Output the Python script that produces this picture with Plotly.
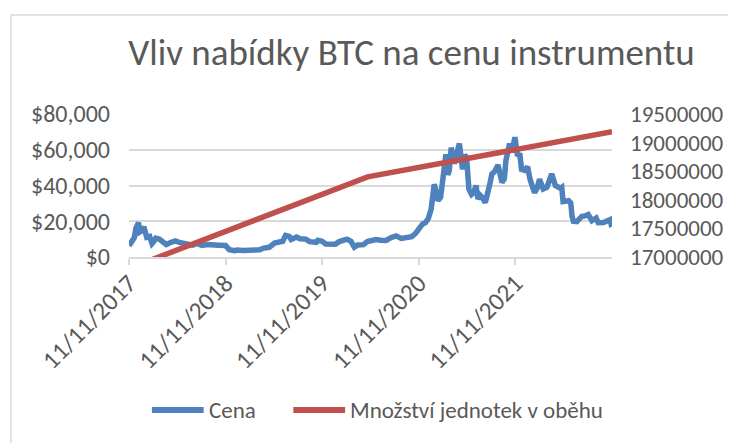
import plotly.graph_objects as go

# ---- data ----
price_dates = [
    "2017-11-11","2017-11-18","2017-11-25","2017-12-01","2017-12-07","2017-12-12","2017-12-17","2017-12-22","2017-12-29",
    "2018-01-06","2018-01-12","2018-01-17","2018-01-28","2018-02-06","2018-02-12","2018-02-20","2018-03-05","2018-03-18",
    "2018-04-01","2018-04-15","2018-05-05","2018-05-20","2018-06-05","2018-06-29","2018-07-10","2018-07-25","2018-08-14",
    "2018-09-05","2018-09-20","2018-10-15","2018-11-11","2018-11-20","2018-11-25","2018-12-15","2018-12-25",
    "2019-01-15","2019-02-08","2019-02-25","2019-03-20","2019-04-05","2019-04-25","2019-05-15","2019-05-30","2019-06-15",
    "2019-06-26","2019-07-10","2019-07-17","2019-08-06","2019-08-20","2019-09-10","2019-09-25","2019-10-20","2019-10-26",
    "2019-11-11","2019-11-25","2019-12-17","2019-12-31","2020-01-15","2020-02-13","2020-02-28","2020-03-12","2020-03-25",
    "2020-04-15","2020-04-30","2020-05-15","2020-06-01","2020-06-20","2020-07-10","2020-07-28","2020-08-17","2020-09-05",
    "2020-09-25","2020-10-15","2020-10-30","2020-11-11","2020-11-25","2020-12-05","2020-12-16","2020-12-27","2021-01-03",
    "2021-01-08","2021-01-15","2021-01-22","2021-02-01","2021-02-08","2021-02-14","2021-02-21","2021-02-28","2021-03-06",
    "2021-03-13","2021-03-25","2021-04-05","2021-04-13","2021-04-20","2021-04-25","2021-05-03","2021-05-10","2021-05-19",
    "2021-05-29","2021-06-06","2021-06-15","2021-06-22","2021-07-01","2021-07-08","2021-07-20","2021-08-05","2021-08-14",
    "2021-08-25","2021-09-06","2021-09-21","2021-09-30","2021-10-06","2021-10-20","2021-10-28","2021-11-09","2021-11-18",
    "2021-11-28","2021-12-04","2021-12-15","2021-12-27","2022-01-05","2022-01-22","2022-02-01","2022-02-10","2022-02-24",
    "2022-03-10","2022-03-28","2022-04-11","2022-04-30","2022-05-05","2022-05-10","2022-05-31","2022-06-08","2022-06-13",
    "2022-06-18","2022-07-01","2022-07-20","2022-08-01","2022-08-13","2022-08-27","2022-09-12","2022-09-20","2022-10-10",
    "2022-10-29","2022-11-05","2022-11-09","2022-11-11",
]
price_values = [
    6300, 7800, 8200, 10800, 16000, 17200, 19200, 14000, 14600,
    17000, 13500, 11000, 11500, 7500, 8500, 10500, 10000, 8200,
    7000, 8000, 9000, 8200, 7500, 6300, 6600, 7600, 6500,
    7000, 6600, 6600, 6400, 4800, 4100, 3500, 3900,
    3700, 3600, 3800, 4000, 5000, 5400, 7800, 8400, 8800,
    12000, 11500, 9800, 11200, 10200, 10000, 8600, 8200, 9300,
    8800, 7300, 6900, 7200, 8600, 10000, 8800, 5500, 6700,
    6900, 8600, 9300, 9800, 9400, 9300, 10800, 11800, 10400,
    10700, 11400, 13300, 15700, 18500, 19200, 21300, 26500, 33000,
    40700, 37000, 31500, 33500, 46000, 48700, 57500, 46000, 48500,
    61200, 52300, 58700, 63500, 55000, 49000, 57000, 56000, 38000,
    35000, 36000, 40000, 32500, 34500, 33500, 30500, 40000, 46500,
    48000, 51500, 41700, 43800, 54000, 63500, 58500, 67000, 57500,
    57000, 49000, 48500, 50500, 43500, 36000, 38500, 43500, 38000,
    39000, 46500, 40000, 38500, 39000, 31000, 31500, 30200, 22800,
    20000, 19800, 22800, 23000, 23800, 20300, 21800, 19200, 19300,
    20500, 21000, 17500, 17000,
]

supply_dates = ["2017-11-11", "2020-05-01", "2022-11-11"]
supply_values = [16800000, 18400000, 19190000]

year_ticks = ["2017-11-11", "2018-11-11", "2019-11-11", "2020-11-11", "2021-11-11"]
year_labels = ["11/11/2017", "11/11/2018", "11/11/2019", "11/11/2020", "11/11/2021"]

left_ticks = [0, 20000, 40000, 60000, 80000]
right_ticks = [17000000, 17500000, 18000000, 18500000, 19000000, 19500000]

title_text = "Vliv nabídky BTC na cenu instrumentu"
series_names = ["Cena", "Množství jednotek v oběhu"]

BLUE = "#4F81BD"
RED = "#C0504D"
TXT = "#595959"
GRID = "#D9D9D9"
FONT = "Carlito, Calibri, Open Sans, sans-serif"

fig = go.Figure()
fig.add_trace(go.Scatter(x=price_dates, y=price_values, mode="lines", name=series_names[0],
                         line=dict(color=BLUE, width=5.5), yaxis="y", showlegend=False))
fig.add_trace(go.Scatter(x=supply_dates, y=supply_values, mode="lines", name=series_names[1],
                         line=dict(color=RED, width=5.5), yaxis="y2", showlegend=False))

OFF = 8  # page body margin
W, H = 736 - OFF, 443 - OFF
L, R, T, B = 129 - OFF, 614 - OFF, 114 - OFF, 257 - OFF

def px(x):
    return (x - OFF - L) / (R - L)

def py(y):
    return (B - (y - OFF)) / (B - T)

shapes = [
    dict(type="rect", xref="paper", yref="paper", x0=px(10.5), x1=px(760), y0=py(15), y1=py(470),
         line=dict(color=GRID, width=1.5), fillcolor="rgba(0,0,0,0)", layer="below"),
    dict(type="line", xref="paper", yref="paper", x0=px(152), x1=px(204), y0=py(410), y1=py(410),
         line=dict(color=BLUE, width=6)),
    dict(type="line", xref="paper", yref="paper", x0=px(294), x1=px(346), y0=py(410), y1=py(410),
         line=dict(color=RED, width=6)),
]
annotations = [
    dict(xref="paper", yref="paper", x=px(207), y=py(410), text=series_names[0], showarrow=False,
         xanchor="left", yanchor="middle", font=dict(family=FONT, size=23, color=TXT)),
    dict(xref="paper", yref="paper", x=px(349), y=py(410), text=series_names[1], showarrow=False,
         xanchor="left", yanchor="middle", font=dict(family=FONT, size=23, color=TXT)),
]

fig.update_layout(
    width=W, height=H,
    margin=dict(l=L, r=W - R, t=T, b=H - B, pad=0),
    paper_bgcolor="white", plot_bgcolor="white",
    title=dict(text=title_text, x=(411.5 - OFF) / W, xanchor="center", y=1 - (52 - OFF) / H,
               yanchor="middle", font=dict(family=FONT, size=37, color=TXT)),
    xaxis=dict(type="date", range=["2017-11-11", "2022-11-11"], tickmode="array",
               tickvals=year_ticks, ticktext=year_labels, tickangle=-45,
               showgrid=False, showline=True, linecolor=GRID, linewidth=1.5,
               ticks="", minor=dict(tickmode="array", tickvals=year_ticks, ticks="outside",
                                    ticklen=6, tickcolor=GRID, tickwidth=1.5, showgrid=False),
               tickfont=dict(family=FONT, size=25, color=TXT), zeroline=False),
    yaxis=dict(range=[0, 80000], tickmode="array", tickvals=left_ticks, tickformat="$,.0f",
               showgrid=True, gridcolor=GRID, gridwidth=1.5, zeroline=False, showline=False,
               ticks="", ticklabelstandoff=18, tickfont=dict(family=FONT, size=24, color=TXT)),
    yaxis2=dict(range=[17000000, 19500000], overlaying="y", side="right", tickmode="array",
                tickvals=right_ticks, tickformat="d", showgrid=False, zeroline=False,
                showline=False, ticks="", ticklabelstandoff=17,
                tickfont=dict(family=FONT, size=23, color=TXT)),
    shapes=shapes, annotations=annotations, showlegend=False,
)

fig.write_html("out.html")
